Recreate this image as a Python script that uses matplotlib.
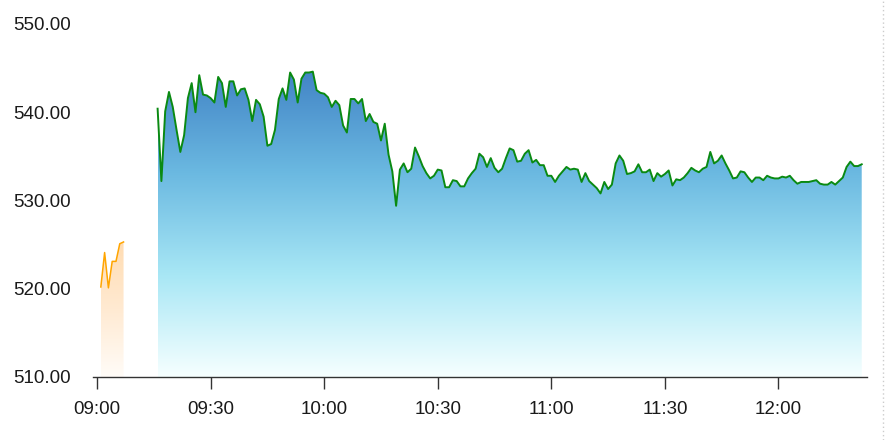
import numpy as np
import matplotlib
matplotlib.use("Agg")
import matplotlib.pyplot as plt
from matplotlib.colors import LinearSegmentedColormap
from matplotlib.lines import Line2D

plt.rcParams["font.family"] = ["Liberation Sans", "DejaVu Sans"]

# one point per minute, minutes counted from 09:00
pre_start = "09:01"
pre_values = [520.2, 524.1, 520.1, 523.1, 523.1, 525.1, 525.3]

main_start = "09:16"
main_values = [
    540.4, 532.2, 540.1, 542.3, 540.6, 538.0, 535.5, 537.4, 541.6, 543.3,
    540.0, 544.2, 542.0, 541.9, 541.6, 541.1, 544.0, 543.3, 540.6, 543.5,
    543.5, 541.9, 542.6, 542.7, 541.4, 539.0, 541.4, 540.9, 539.5, 536.2,
    536.4, 538.0, 541.5, 542.7, 541.4, 544.5, 543.7, 541.1, 543.8, 544.5,
    544.5, 544.6, 542.5, 542.2, 542.1, 541.7, 540.6, 541.3, 540.8, 538.5,
    537.7, 541.5, 541.5, 541.0, 541.5, 539.0, 539.8, 538.9, 538.7, 536.8,
    538.7, 535.2, 533.3, 529.4, 533.5,
    534.2, 533.2, 533.6, 536.0, 535.0, 533.9, 533.1, 532.5, 532.8, 533.5,
    533.4, 531.5, 531.5, 532.3, 532.2, 531.6, 531.6, 532.5, 533.1, 533.6,
    535.3, 534.9, 533.8, 534.8, 533.7, 533.2, 533.6, 534.8, 535.9, 535.7,
    534.4, 534.5, 535.3, 535.7, 534.3, 534.6, 534.0, 534.0, 532.8, 532.8,
    532.1, 532.8, 533.3,
    533.8, 533.5, 533.6, 533.5, 532.1, 533.1, 532.2, 531.8, 531.4, 530.8,
    532.1, 531.3, 531.8, 534.2, 535.1, 534.5, 533.0, 533.1, 533.3, 534.1,
    533.2, 533.2, 533.5, 532.2, 533.1, 532.7, 533.0, 533.4, 531.7, 532.4,
    532.3, 532.6, 533.1, 533.7, 533.4, 533.2, 533.6, 533.8, 535.5, 534.2,
    534.5, 535.1, 534.2, 533.4, 532.5, 532.6, 533.3, 533.2, 532.6, 532.1,
    532.6, 532.6, 532.3, 532.8, 532.6, 532.5, 532.5, 532.7, 532.6, 532.8,
    532.3, 531.9, 532.1, 532.1, 532.1, 532.2, 532.3, 531.9, 531.8, 531.8,
    532.1, 531.8, 532.2, 532.6, 533.8, 534.4, 533.9, 533.9, 534.1,
]

tick_labels = ["09:00", "09:30", "10:00", "10:30", "11:00", "11:30", "12:00"]
y_ticks = [510, 520, 530, 540, 550]
Y_MIN, Y_MAX = 510, 550


def to_minutes(label):
    h, m = label.split(":")
    return (int(h) - 9) * 60 + int(m)


def gradient_fill(ax, x, y, colors, zorder):
    """Fill under the line with a vertical gradient clipped to the area."""
    poly = ax.fill_between(x, y, Y_MIN, facecolor="none", edgecolor="none")
    cmap = LinearSegmentedColormap.from_list("grad", colors)
    grad = np.linspace(1, 0, 256).reshape(-1, 1)
    im = ax.imshow(grad, cmap=cmap, aspect="auto", origin="upper",
                   extent=[x[0], x[-1], Y_MIN, max(y)], zorder=zorder)
    im.set_clip_path(poly.get_paths()[0], transform=ax.transData)


fig = plt.figure(figsize=(8.92, 4.4), dpi=100)
ax = fig.add_axes([0.1043, 0.1432, 0.8677, 0.8023])

x_pre = to_minutes(pre_start) + np.arange(len(pre_values))
x_main = to_minutes(main_start) + np.arange(len(main_values))

gradient_fill(ax, x_pre, pre_values, ["#fffcf8", "#ffead2", "#ffdcb2"], 1)
ax.plot(x_pre, pre_values, color="#ffa500", lw=1.1, zorder=3)

gradient_fill(ax, x_main, main_values,
              ["#f6ffff", "#a8e7f5", "#6bb9e1", "#4284c6"], 1)
ax.plot(x_main, main_values, color="#0a8a12", lw=1.4, zorder=3)

ax.set_xlim(-1.06, 203.4)
ax.set_ylim(Y_MIN, Y_MAX)

ax.set_xticks([to_minutes(t) for t in tick_labels])
ax.set_xticklabels(tick_labels)
ax.set_yticks(y_ticks)
ax.set_yticklabels([f"{v:.2f}" for v in y_ticks])

for side in ["top", "right", "left"]:
    ax.spines[side].set_visible(False)
ax.spines["bottom"].set_color("#333333")
ax.spines["bottom"].set_linewidth(1.0)

ax.tick_params(axis="x", length=8.6, width=1.0, color="#333333", pad=8.5,
               labelsize=13.5, labelcolor="#1a1a1a")
ax.tick_params(axis="y", length=0, pad=16, labelsize=13.5, labelcolor="#1a1a1a")

# dotted border line on the right
fig.add_artist(Line2D([882.5 / 892] * 2, [0, 1], transform=fig.transFigure,
                      linestyle=(0, (1, 2)), color="#cccccc", lw=1))

fig.savefig("out.png", dpi=100)
